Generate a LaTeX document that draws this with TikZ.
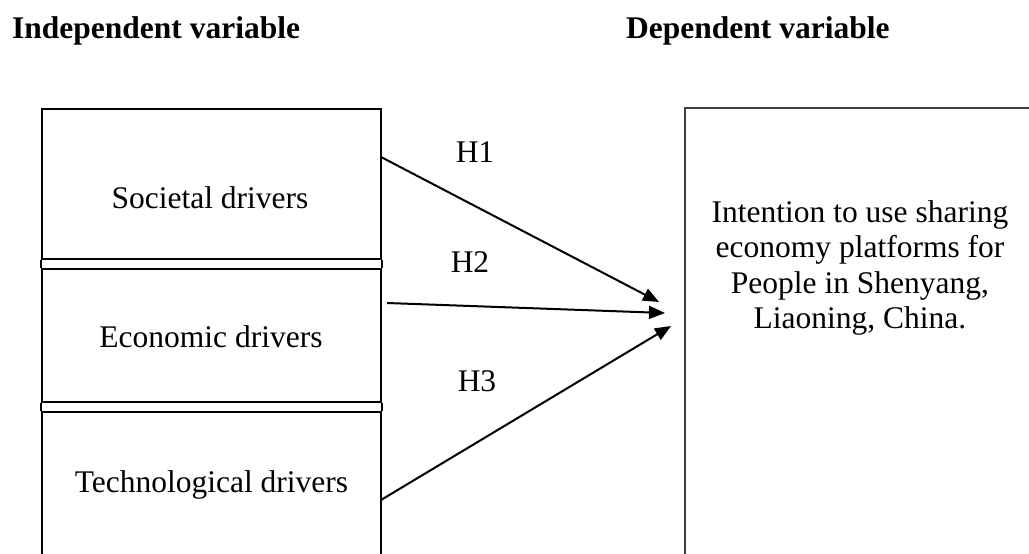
\documentclass[tikz,border=0pt]{standalone}
\usepackage{fontspec}
\setmainfont{Liberation Serif}
\usetikzlibrary{arrows.meta}
\begin{document}
\begin{tikzpicture}[x=1pt,y=-1pt,
  every node/.style={font=\fontsize{31.5}{35.3}\selectfont, inner sep=0pt},
  leftbox/.style={draw=black, line width=2.2pt, minimum width=339pt, anchor=north west},
  rightbox/.style={draw=black!75, line width=1.5pt, anchor=north west},
  hyp/.style={line width=2pt, -{Triangle[length=16pt,width=13pt]}},
  boxtext/.style={anchor=base},
  title/.style={anchor=base west, font=\bfseries\fontsize{31.5}{35.3}\selectfont}]
\useasboundingbox (0,0) rectangle (1029,554);
\clip (0,0) rectangle (1029,554);

% titles
\node[title] (tind) at (12,38) {Independent variable};
\node[title] (tdep) at (626,38) {Dependent variable};

% left boxes
\node[leftbox, minimum height=150pt] (soc) at (41,108) {};
\node[leftbox, minimum height=133pt] (eco) at (41,268) {};
\node[leftbox, minimum height=175pt] (tec) at (41,411) {};
\draw[line width=2.2pt] (soc.south west) -- (eco.north west);
\draw[line width=2.2pt] (soc.south east) -- (eco.north east);
\draw[line width=2.2pt] (eco.south west) -- (tec.north west);
\draw[line width=2.2pt] (eco.south east) -- (tec.north east);

\node[boxtext] (soct) at (210,208) {Societal drivers};
\node[boxtext] (ecot) at (211,347) {Economic drivers};
\node[boxtext] (tect) at (211.5,492) {Technological drivers};

% right box
\node[rightbox, minimum width=400pt, minimum height=500pt] (dep) at (684,107) {};
\node[align=center] (dept) at (860,268) {Intention to use sharing\\economy platforms for\\People in Shenyang,\\Liaoning, China.};

% arrows
\coordinate (s1) at (381,157);
\coordinate (s2) at (387,303);
\coordinate (s3) at (381,500);
\coordinate (e1) at (659,302);
\coordinate (e2) at (665,313);
\coordinate (e3) at (671,326);
\draw[hyp] (s1) -- (e1);
\draw[hyp] (s2) -- (e2);
\draw[hyp] (s3) -- (e3);

\node[boxtext] (h1) at (475,162) {H1};
\node[boxtext] (h2) at (470,272) {H2};
\node[boxtext] (h3) at (477,391) {H3};
\end{tikzpicture}
\end{document}
